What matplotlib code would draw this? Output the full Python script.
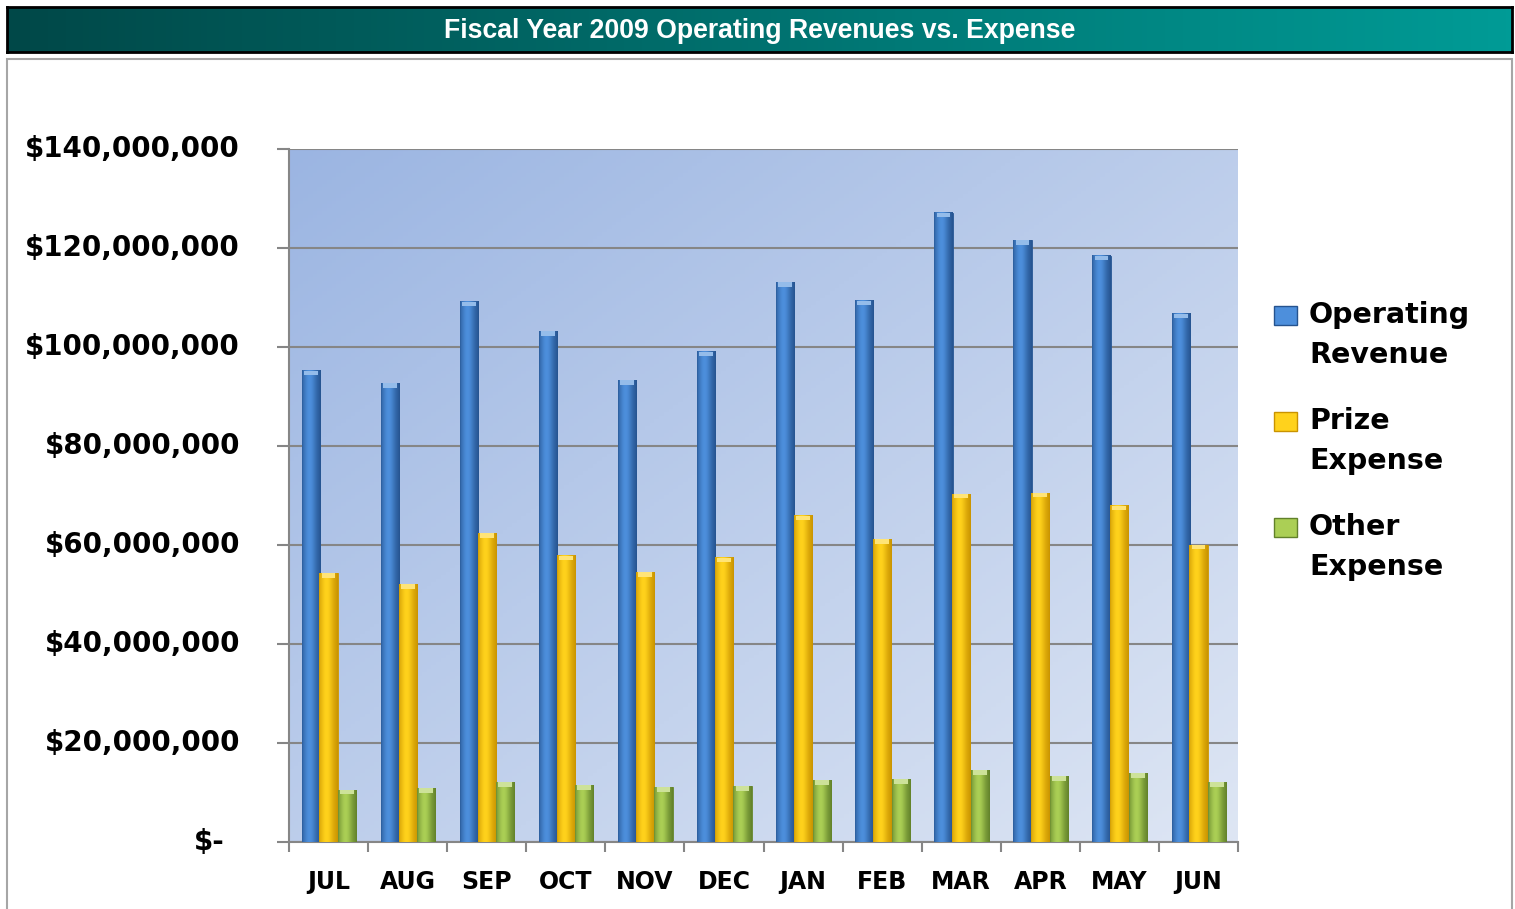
import numpy as np
import matplotlib
matplotlib.use("Agg")
import matplotlib.pyplot as plt
from matplotlib.patches import Rectangle
from matplotlib.transforms import ScaledTranslation

# Data (in dollars)
months = ['JUL', 'AUG', 'SEP', 'OCT', 'NOV', 'DEC',
          'JAN', 'FEB', 'MAR', 'APR', 'MAY', 'JUN']
operating_revenue = [95.2e6, 92.7e6, 109.1e6, 103.2e6, 93.3e6, 99.0e6,
                     113.1e6, 109.3e6, 127.1e6, 121.6e6, 118.4e6, 106.7e6]
prize_expense = [54.3e6, 52.1e6, 62.4e6, 57.8e6, 54.5e6, 57.4e6,
                 65.9e6, 61.2e6, 70.3e6, 70.5e6, 67.9e6, 60.0e6]
other_expense = [10.5e6, 10.9e6, 12.1e6, 11.5e6, 11.1e6, 11.3e6,
                 12.5e6, 12.7e6, 14.5e6, 13.3e6, 13.9e6, 12.1e6]
series_names = ['Operating\nRevenue', 'Prize\nExpense', 'Other\nExpense']
y_ticks = [0, 20e6, 40e6, 60e6, 80e6, 100e6, 120e6, 140e6]
y_labels = ['$-', '$20,000,000', '$40,000,000', '$60,000,000',
            '$80,000,000', '$100,000,000', '$120,000,000', '$140,000,000']
title = 'Fiscal Year 2009 Operating Revenues vs. Expense'

# (dark edge, light centre) per series
shades = [('#25538f', '#4d8fdc'),
          ('#c99300', '#ffd21c'),
          ('#61812a', '#abcf55')]

W, H = 1515, 909
fig = plt.figure(figsize=(W / 100, H / 100), dpi=100)
LABEL_FONT = 'DejaVu Sans'

# outer chart border
fig.patches.append(Rectangle((7 / W, -0.01), 1505 / W, (H - 59) / H + 0.01,
                             transform=fig.transFigure, fill=False,
                             edgecolor='#a6a6a6', linewidth=1.5))

# title banner
tax = fig.add_axes([7 / W, (H - 52) / H, 1505 / W, 45 / H])
c0 = np.array([0, 72, 72]) / 255
c1 = np.array([0, 155, 150]) / 255
t = np.linspace(0, 1, 256)[None, :, None]
tax.imshow(c0 + (c1 - c0) * t, aspect='auto', extent=[0, 1, 0, 1])
tax.set_xlim(0, 1)
tax.set_ylim(0, 1)
tax.set_xticks([])
tax.set_yticks([])
for s in tax.spines.values():
    s.set_linewidth(2)
    s.set_color('black')
tax.text(0.5, 0.47, title, color='white', fontsize=19.2, fontweight='bold',
         family='Liberation Sans', ha='center', va='center')

# main axes
ax = fig.add_axes([289 / W, (H - 842) / H, 949 / W, 693 / H])

# diagonal background gradient
gy, gx = np.mgrid[0:1:200j, 0:1:200j]
g = (gx + gy) / 2
top_left = np.array([155, 181, 226]) / 255
bot_right = np.array([222, 230, 244]) / 255
bg = top_left + (bot_right - top_left) * g[..., None]
ax.imshow(bg, transform=ax.transAxes, extent=[0, 1, 0, 1], aspect='auto',
          zorder=0, origin='upper')

x = np.arange(len(months))
width = 0.23
series = [operating_revenue, prize_expense, other_expense]
offsets = [-0.225, 0.0, 0.235]


def bar_image(dark, light, n=48):
    d = np.array(matplotlib.colors.to_rgb(dark))
    l = np.array(matplotlib.colors.to_rgb(light))
    tt = np.linspace(0, 1, n)
    k = np.exp(-((tt - 0.4) / 0.38) ** 2)
    k[:2] *= 0.5
    k[-3:] *= 0.4
    return (d + (l - d) * k[:, None])[None, :, :]


for vals, off, (dark, light) in zip(series, offsets, shades):
    bars = ax.bar(x + off, vals, width, color=light, edgecolor=dark,
                  linewidth=0.6, zorder=2)
    img = bar_image(dark, light)
    for b in bars:
        x0, w, h = b.get_x(), b.get_width(), b.get_height()
        ax.imshow(img, extent=[x0, x0 + w, 0, h], aspect='auto', zorder=3,
                  interpolation='bilinear')
        # lighter cap at the top
        cap = np.array(matplotlib.colors.to_rgb(light)) * 0.6 + 0.4
        ax.add_patch(Rectangle((x0 + w * 0.12, h - 0.9e6), w * 0.76, 0.9e6,
                               facecolor=cap, edgecolor='none', zorder=4))

ax.set_xlim(-0.5, len(months) - 0.5)
ax.set_ylim(0, 140e6)

ax.set_yticks(y_ticks)
ax.set_yticklabels([])
ax.tick_params(axis='y', length=8.6, width=1.5, color='#868686', direction='out')
ax.yaxis.grid(True, color='#868686', linewidth=1.5, zorder=1)
ax.set_axisbelow(True)

# y labels right-aligned to the left of the axis
for v, lab in zip(y_ticks, y_labels):
    shift = -64 if lab == '$-' else -49
    tr = ax.get_yaxis_transform() + ScaledTranslation(shift / 100, 0,
                                                      fig.dpi_scale_trans)
    ax.text(0, v, lab, transform=tr, ha='right', va='center',
            fontsize=20, fontweight='bold', family=LABEL_FONT)

ax.set_xticks(x)
ax.set_xticklabels(months, fontsize=17, fontweight='bold', family=LABEL_FONT)
ax.tick_params(axis='x', which='major', length=0, pad=20)
ax.set_xticks(np.arange(-0.5, len(months)), minor=True)
ax.tick_params(axis='x', which='minor', length=7.2, width=1.5, color='#868686')

for s in ['top', 'right']:
    ax.spines[s].set_visible(False)
for s in ['left', 'bottom']:
    ax.spines[s].set_color('#868686')
    ax.spines[s].set_linewidth(1.5)

# legend: square beside the first line of each two-line label
for i, (name, (dark, light)) in enumerate(zip(series_names, shades)):
    y0 = 315 + 106 * i
    fig.patches.append(Rectangle((1274 / W, 1 - (y0 + 10) / H), 23 / W, 19 / H,
                                 transform=fig.transFigure, facecolor=light,
                                 edgecolor=dark, linewidth=1))
    for j, line in enumerate(name.split('\n')):
        fig.text(1309 / W, 1 - (y0 + 40 * j) / H, line, ha='left',
                 va='center', fontsize=20.5, fontweight='bold',
                 family=LABEL_FONT)

fig.savefig('out.png', dpi=100)
